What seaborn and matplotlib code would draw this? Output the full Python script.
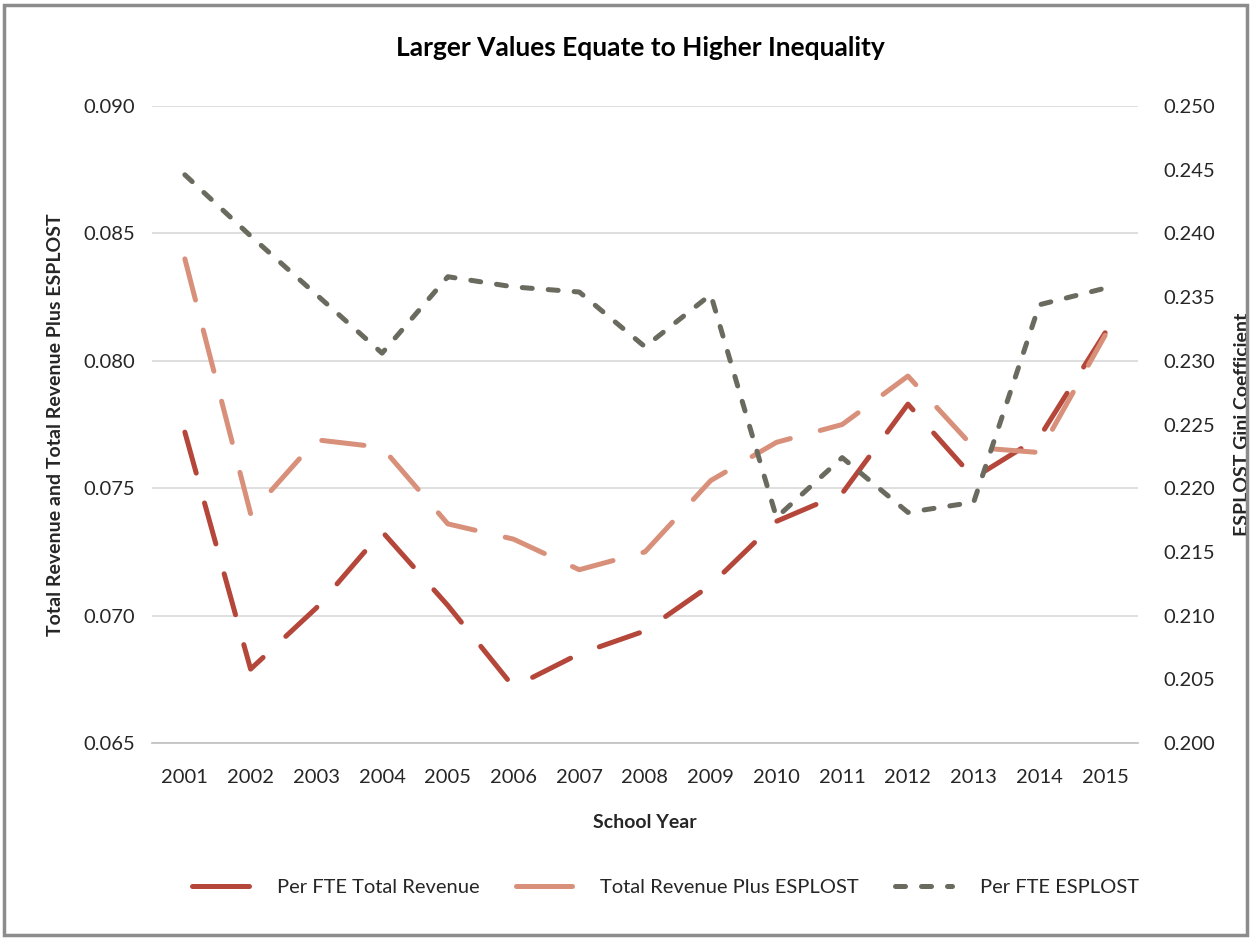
import numpy as np
import pandas as pd
import matplotlib
matplotlib.use("Agg")
import matplotlib.pyplot as plt
from matplotlib.patches import Rectangle
from matplotlib.lines import Line2D
import seaborn as sns

years = ["2001", "2002", "2003", "2004", "2005", "2006", "2007", "2008",
         "2009", "2010", "2011", "2012", "2013", "2014", "2015"]
per_fte_total_revenue = [0.0772, 0.0679, 0.0703, 0.0733, 0.0704, 0.0672, 0.0685, 0.0694,
                         0.0712, 0.0737, 0.0748, 0.0783, 0.0754, 0.0770, 0.0811]
total_revenue_plus_esplost = [0.0840, 0.0740, 0.0769, 0.0766, 0.0736, 0.0730, 0.0718, 0.0725,
                              0.0753, 0.0768, 0.0775, 0.0794, 0.0766, 0.0764, 0.0810]
per_fte_esplost = [0.2446, 0.2398, 0.2352, 0.2306, 0.2366, 0.2358, 0.2354, 0.2311,
                   0.2352, 0.2177, 0.2224, 0.2181, 0.2189, 0.2344, 0.2357]

left_ticks = [0.065, 0.070, 0.075, 0.080, 0.085, 0.090]
right_ticks = [0.200, 0.205, 0.210, 0.215, 0.220, 0.225, 0.230, 0.235, 0.240, 0.245, 0.250]

c_dark = "#B5463A"
c_salmon = "#D9907A"
c_gray = "#6B6A5F"
txt = "#262626"

sns.set_theme(style="white")
plt.rcParams["font.family"] = ["Lato", "DejaVu Sans"]

df = pd.DataFrame({
    "year": years,
    "ftetot": per_fte_total_revenue,
    "totplus": total_revenue_plus_esplost,
    "esplost": per_fte_esplost,
})
df["pos"] = np.arange(len(years))

fig = plt.figure(figsize=(12.51, 9.39), dpi=100)
fig.patch.set_facecolor("white")
ax = fig.add_axes([152/1251, 1-743/939, (1138-152)/1251, (743-106)/939])
ax2 = ax.twinx()

lw = 3.6
long_dash = (8.5, 6.2)
short_dash = (2.0, 3.2)

sns.lineplot(data=df, x="pos", y="ftetot", ax=ax, color=c_dark, lw=lw, legend=False)
sns.lineplot(data=df, x="pos", y="totplus", ax=ax, color=c_salmon, lw=lw, legend=False)
sns.lineplot(data=df, x="pos", y="esplost", ax=ax2, color=c_gray, lw=lw, legend=False)
for ln in ax.get_lines():
    ln.set_dashes(long_dash)
    ln.set_dash_capstyle("round")
for ln in ax2.get_lines():
    ln.set_dashes(short_dash)
    ln.set_dash_capstyle("round")

ax.set_xlim(-0.5, len(years) - 0.5)
ax.set_ylim(0.065, 0.090)
ax2.set_ylim(0.200, 0.250)
ax.set_yticks(left_ticks)
ax.set_yticklabels([f"{v:.3f}" for v in left_ticks])
ax2.set_yticks(right_ticks)
ax2.set_yticklabels([f"{v:.3f}" for v in right_ticks])
ax.set_xticks(np.arange(len(years)))
ax.set_xticklabels(years)
ax.set_xticks(np.arange(-0.5, len(years)), minor=True)

ax.yaxis.grid(True, color="#D9D9D9", lw=1.2)
ax.set_axisbelow(True)
for a in (ax, ax2):
    for s in ["top", "left", "right", "bottom"]:
        a.spines[s].set_visible(False)
ax.spines["bottom"].set_visible(True)
ax.spines["bottom"].set_color("#BFBFBF")
ax.spines["bottom"].set_linewidth(1.2)

fs = 14.5
ax.tick_params(axis="x", which="major", length=0, pad=19, labelsize=fs, labelcolor=txt)
ax.tick_params(axis="x", which="minor", length=7, width=1.2, color="#BFBFBF", direction="out")
ax.tick_params(axis="y", length=0, pad=12, labelsize=fs, labelcolor=txt)
ax2.tick_params(axis="y", length=0, pad=18, labelsize=fs, labelcolor=txt)

ax.set_xlabel("School Year", fontsize=14, fontweight="bold", color=txt, labelpad=20)
ax.set_ylabel("Total Revenue and Total Revenue Plus ESPLOST", fontsize=14,
              fontweight="bold", color=txt, labelpad=14)
ax2.set_ylabel("ESPLOST Gini Coefficient", fontsize=14, fontweight="bold",
               color=txt, labelpad=14)

fig.text(0.512, 1-48/939, "Larger Values Equate to Higher Inequality", ha="center",
         va="center", fontsize=19, fontweight="bold", color="black")

handles = [
    Line2D([0], [0], color=c_dark, lw=lw, dash_capstyle="round", solid_capstyle="round"),
    Line2D([0], [0], color=c_salmon, lw=lw, dash_capstyle="round", solid_capstyle="round"),
    Line2D([0], [0], color=c_gray, lw=lw, linestyle=(0, (2.0, 3.2)), dash_capstyle="round"),
]
labels = ["Per FTE Total Revenue", "Total Revenue Plus ESPLOST", "Per FTE ESPLOST"]
fig.legend(handles, labels, loc="center", bbox_to_anchor=(0.532, 1-887/939), ncol=3,
           frameon=False, fontsize=fs, handlelength=2.8, columnspacing=1.8,
           handletextpad=1.4, labelcolor=txt)

# frame around chart
fig.add_artist(Rectangle((4/1251, 4/939), 1243/1251, 930/939, transform=fig.transFigure,
                         fill=False, edgecolor="#8C8C8C", lw=2.5))

fig.savefig("out.png", dpi=100)
